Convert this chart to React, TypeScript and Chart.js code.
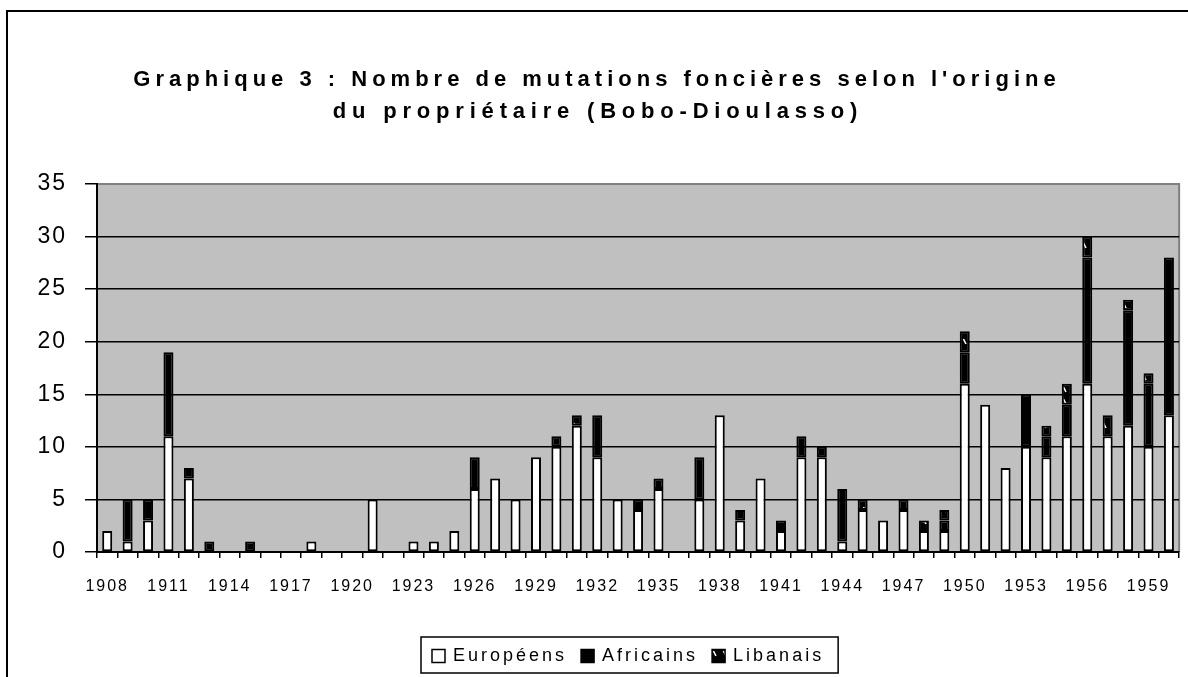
import React, { useEffect, useRef } from 'react';
import { Chart, registerables } from 'chart.js';

Chart.register(...registerables);

const YEARS = [
  '1908', '1909', '1910', '1911', '1912', '1913', '1914', '1915', '1916', '1917',
  '1918', '1919', '1920', '1921', '1922', '1923', '1924', '1925', '1926', '1927',
  '1928', '1929', '1930', '1931', '1932', '1933', '1934', '1935', '1936', '1937',
  '1938', '1939', '1940', '1941', '1942', '1943', '1944', '1945', '1946', '1947',
  '1948', '1949', '1950', '1951', '1952', '1953', '1954', '1955', '1956', '1957',
  '1958', '1959', '1960',
];

const EUROPEENS = [
  2, 1, 3, 11, 7, 0, 0, 0, 0, 0,
  1, 0, 0, 5, 0, 1, 1, 2, 6, 7,
  5, 9, 10, 12, 9, 5, 4, 6, 0, 5,
  13, 3, 7, 2, 9, 9, 1, 4, 3, 4,
  2, 2, 16, 14, 8, 10, 9, 11, 16, 11,
  12, 10, 13,
];

const AFRICAINS = [
  0, 4, 2, 8, 1, 1, 0, 1, 0, 0,
  0, 0, 0, 0, 0, 0, 0, 0, 3, 0,
  0, 0, 1, 0, 4, 0, 1, 1, 0, 4,
  0, 1, 0, 1, 2, 1, 5, 0, 0, 1,
  0, 1, 3, 0, 0, 5, 2, 3, 12, 0,
  11, 6, 15,
];

const LIBANAIS = [
  0, 0, 0, 0, 0, 0, 0, 0, 0, 0,
  0, 0, 0, 0, 0, 0, 0, 0, 0, 0,
  0, 0, 0, 1, 0, 0, 0, 0, 0, 0,
  0, 0, 0, 0, 0, 0, 0, 1, 0, 0,
  1, 1, 2, 0, 0, 0, 1, 2, 2, 2,
  1, 1, 0,
];

const SERIES_NAMES = ['Européens', 'Africains', 'Libanais'];
const TITLE_LINES = [
  "Graphique 3 : Nombre de mutations foncières selon l'origine",
  'du propriétaire (Bobo-Dioulasso)',
];
const Y_MAX = 35;
const Y_STEP = 5;
const X_LABEL_EVERY = 3;

const FONT = "'Liberation Sans', Arial, Helvetica, sans-serif";

function makePattern(): CanvasPattern | string {
  const c = document.createElement('canvas');
  c.width = 10;
  c.height = 12;
  const g = c.getContext('2d');
  if (!g) return '#000';
  g.fillStyle = '#000';
  g.fillRect(0, 0, 10, 12);
  g.strokeStyle = '#fff';
  g.lineWidth = 1.6;
  g.beginPath();
  g.moveTo(3.5, 3);
  g.lineTo(6, 8);
  g.stroke();
  const p = g.createPattern(c, 'repeat');
  return p || '#000';
}

export default function App() {
  const canvasRef = useRef<HTMLCanvasElement | null>(null);

  useEffect(() => {
    const canvas = canvasRef.current;
    if (!canvas) return;
    const pattern = makePattern();
    const fills = ['#ffffff', '#000000', pattern];

    const decorPlugin = {
      id: 'decor',
      beforeLayout(chart: any) {
        chart.ctx.letterSpacing = '2px';
      },
      beforeDraw(chart: any) {
        const { ctx, chartArea: a, width, height } = chart;
        ctx.save();
        ctx.fillStyle = '#ffffff';
        ctx.fillRect(0, 0, width, height);
        ctx.fillStyle = '#c0c0c0';
        ctx.fillRect(a.left, a.top, a.right - a.left, a.bottom - a.top);
        ctx.strokeStyle = '#808080';
        ctx.lineWidth = 2;
        ctx.beginPath();
        ctx.moveTo(a.left, a.top);
        ctx.lineTo(a.right, a.top);
        ctx.lineTo(a.right, a.bottom);
        ctx.stroke();
        ctx.restore();
        ctx.letterSpacing = '2px';
      },
      afterDraw(chart: any) {
        const { ctx, width, height } = chart;
        ctx.save();
        // outer frame
        ctx.strokeStyle = '#000';
        ctx.lineWidth = 2;
        ctx.beginPath();
        ctx.moveTo(7, height + 5);
        ctx.lineTo(7, 11);
        ctx.lineTo(width + 5, 11);
        ctx.stroke();

        // title
        ctx.fillStyle = '#000';
        ctx.font = `bold 22px ${FONT}`;
        ctx.textAlign = 'center';
        ctx.textBaseline = 'middle';
        ctx.letterSpacing = '5px';
        ctx.fillText(TITLE_LINES[0], 597, 80);
        ctx.letterSpacing = '5.8px';
        ctx.fillText(TITLE_LINES[1], 598, 112);

        // legend
        const items = chart.data.datasets.map((d: any, i: number) => ({ label: d.label, fill: fills[i] }));
        ctx.font = `18px ${FONT}`;
        ctx.letterSpacing = '3px';
        ctx.textAlign = 'left';
        ctx.textBaseline = 'middle';
        const boxX = 421;
        const boxY = 637;
        const boxH = 36;
        let x = boxX + 11;
        const cy = boxY + boxH / 2 + 1;
        items.forEach((it: any) => {
          ctx.fillStyle = it.fill;
          ctx.fillRect(x, cy - 6.5, 13, 13);
          ctx.strokeStyle = '#000';
          ctx.lineWidth = 1.5;
          ctx.strokeRect(x, cy - 6.5, 13, 13);
          x += 21;
          ctx.fillStyle = '#000';
          ctx.fillText(it.label, x, cy);
          x += ctx.measureText(it.label).width + 14;
        });
        ctx.strokeStyle = '#000';
        ctx.lineWidth = 1.5;
        ctx.strokeRect(boxX, boxY, x - boxX, boxH);
        ctx.restore();
      },
    };

    const ds = [EUROPEENS, AFRICAINS, LIBANAIS].map((vals, i) => ({
      label: SERIES_NAMES[i],
      data: vals,
      backgroundColor: fills[i],
      borderColor: '#000000',
      borderWidth: 2,
      borderSkipped: false,
      barPercentage: 0.49,
      categoryPercentage: 1,
    }));

    const chart = new Chart(canvas, {
      type: 'bar',
      data: { labels: YEARS, datasets: ds as any },
      options: {
        responsive: false,
        animation: false,
        devicePixelRatio: 1,
        layout: { padding: { top: 184, left: 0, right: 8, bottom: 85 } },
        plugins: {
          legend: { display: false },
          title: { display: false },
          tooltip: { enabled: false },
        },
        scales: {
          x: {
            stacked: true,
            offset: true,
            afterFit: (s: any) => { s.height = 40; },
            grid: {
              display: true,
              offset: true,
              drawOnChartArea: false,
              drawTicks: true,
              tickLength: 6,
              color: '#000',
              lineWidth: 1.5,
            },
            border: { display: true, color: '#000', width: 2 },
            ticks: {
              autoSkip: false,
              maxRotation: 0,
              minRotation: 0,
              padding: 19,
              color: '#000',
              font: { family: FONT, size: 16 },
              callback: (_v: any, i: number) => (i % X_LABEL_EVERY === 0 ? YEARS[i] : ''),
            },
          },
          y: {
            stacked: true,
            min: 0,
            max: Y_MAX,
            afterFit: (s: any) => { s.width = 97; },
            grid: {
              color: (c: any) => (c.tick && c.tick.value === Y_MAX ? '#808080' : '#000'),
              tickColor: '#000',
              lineWidth: 1.5,
              tickLength: 12,
              drawTicks: true,
            },
            border: { display: true, color: '#000', width: 2 },
            ticks: {
              stepSize: Y_STEP,
              padding: 18,
              color: '#000',
              font: { family: FONT, size: 23 },
            },
          },
        },
      },
      plugins: [decorPlugin],
    });

    return () => chart.destroy();
  }, []);

  return (
    <div style={{ position: 'absolute', left: 0, top: 0, width: 1188, height: 677, background: '#fff' }}>
      <canvas ref={canvasRef} width={1188} height={677} style={{ width: 1188, height: 677, display: 'block' }} />
    </div>
  );
}
